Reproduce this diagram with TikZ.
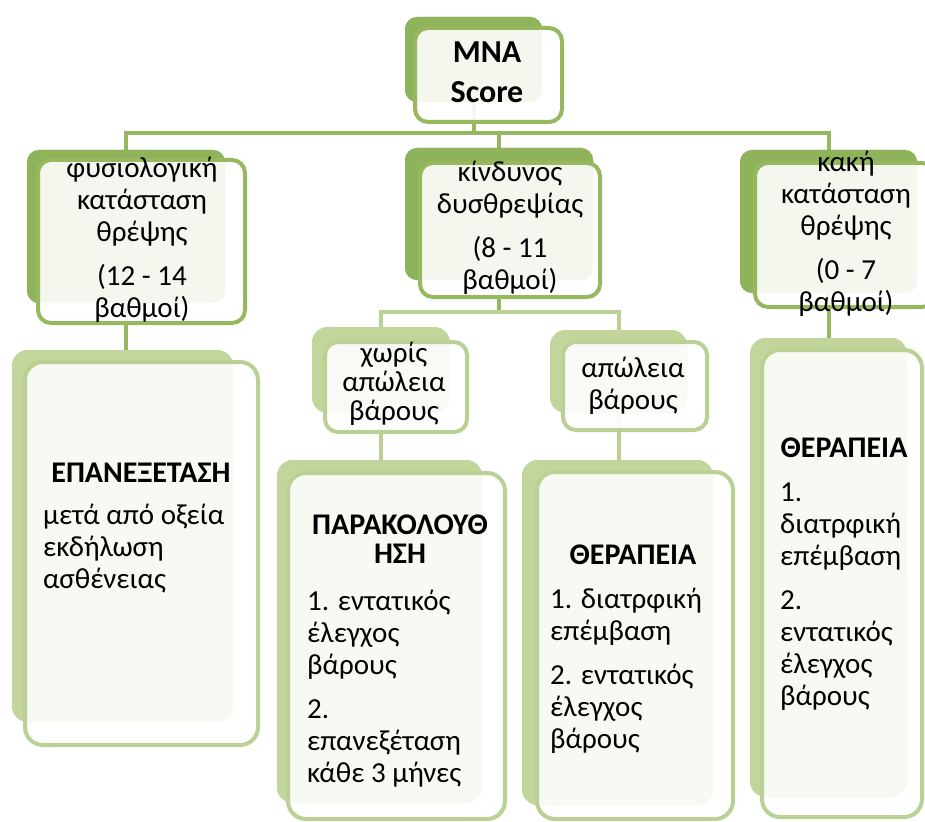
\documentclass[tikz,border=0pt]{standalone}
\usepackage{fontspec}
\setmainfont{Carlito}
\definecolor{gdark}{HTML}{8EB35A}
\definecolor{gline}{HTML}{97B85E}
\definecolor{glight}{HTML}{C2D69B}
\definecolor{glightline}{HTML}{BAD095}
\tikzset{
  backA/.style={fill=gdark, rounded corners=12pt, inner sep=0pt, outer sep=0pt},
  frontA/.style={draw=gline, line width=4pt, fill=white, fill opacity=0.9, rounded corners=13pt, inner sep=0pt, outer sep=0pt},
  backB/.style={fill=glight, rounded corners=16pt, inner sep=0pt, outer sep=0pt},
  frontB/.style={draw=glightline, line width=4pt, fill=white, fill opacity=0.88, rounded corners=18pt, inner sep=0pt, outer sep=0pt},
  connA/.style={draw=gline, line width=4pt},
  connB/.style={draw=glightline, line width=4pt},
  txt/.style={font=\fontsize{29}{32}\selectfont, align=center, inner sep=0pt, text=black},
  ltxt/.style={font=\fontsize{29}{32}\selectfont, align=left, inner sep=0pt, text=black, anchor=west},
  btxt/.style={font=\fontsize{30}{29}\selectfont\bfseries, align=center, inner sep=0pt, text=black},
}
\begin{document}
\begin{tikzpicture}[x=1pt,y=-1pt]
\clip (0,0) rectangle (925,821);
\fill[white] (0,0) rectangle (925,821);
% back shapes (named nodes)
\node[backA, minimum width=137pt, minimum height=85pt] (mna) at (473.5,59.5) {};
\node[backA, minimum width=198pt, minimum height=153pt] (la) at (126,226.5) {};
\node[backA, minimum width=188pt, minimum height=132pt] (lb) at (499,214) {};
\node[backA, minimum width=177pt, minimum height=143pt] (lc) at (828.5,221.5) {};
\node[backB, minimum width=221pt, minimum height=372pt] (ra) at (122.5,536) {};
\node[backB, minimum width=138pt, minimum height=86pt] (ma) at (381,370) {};
\node[backB, minimum width=137pt, minimum height=83pt] (mb) at (618.5,371.5) {};
\node[backB, minimum width=205pt, minimum height=343pt] (rb) at (379.5,631.5) {};
\node[backB, minimum width=191pt, minimum height=345pt] (rc) at (617.5,632.5) {};
\node[backB, minimum width=157pt, minimum height=459pt] (rd) at (828.5,567.5) {};
% connectors
\coordinate (bus) at (0,133);
\coordinate (bus2) at (0,312);
\draw[connA] (mna.south) -- (mna.south |- bus);
\draw[connA] (la.north) |- (lc.north |- bus) -- (lc.north);
\draw[connA] (lb.north) -- (lb.north |- bus);
\draw[connA] (la.south) -- (la.south |- ra.north);
\draw[connA] (lc.south) -- (lc.south |- rd.north);
\draw[connA] (lb.south) -- (lb.south |- bus2);
\draw[connB] (ma.north) |- (mb.north |- bus2) -- (mb.north);
\draw[connB] (ma.south) -- (ma.south |- rb.north);
\draw[connB] (mb.south) -- (mb.south |- rc.north);
% redraw back shapes over connector ends
\fill[gdark, rounded corners=12pt] (mna.north west) rectangle (mna.south east);
\fill[gdark, rounded corners=12pt] (la.north west) rectangle (la.south east);
\fill[gdark, rounded corners=12pt] (lb.north west) rectangle (lb.south east);
\fill[gdark, rounded corners=12pt] (lc.north west) rectangle (lc.south east);
\fill[glight, rounded corners=16pt] (ra.north west) rectangle (ra.south east);
\fill[glight, rounded corners=16pt] (ma.north west) rectangle (ma.south east);
\fill[glight, rounded corners=16pt] (mb.north west) rectangle (mb.south east);
\fill[glight, rounded corners=16pt] (rb.north west) rectangle (rb.south east);
\fill[glight, rounded corners=16pt] (rc.north west) rectangle (rc.south east);
\fill[glight, rounded corners=16pt] (rd.north west) rectangle (rd.south east);
% front shapes
\node[frontA, minimum width=147pt, minimum height=94pt] (mnaF) at (488.5,75) {};
\node[frontA, minimum width=207pt, minimum height=163pt] (laF) at (141.5,241.5) {};
\node[frontA, minimum width=180pt, minimum height=134pt] (lbF) at (510,230) {};
\node[frontA, minimum width=180pt, minimum height=144pt] (lcF) at (845,235) {};
\node[frontB, minimum width=233pt, minimum height=383pt] (raF) at (141.5,553.5) {};
\node[frontA, minimum width=142pt, minimum height=90pt, draw=glightline] (maF) at (396,387) {};
\node[frontA, minimum width=144pt, minimum height=88pt, draw=glightline] (mbF) at (635,386) {};
\node[frontB, minimum width=217pt, minimum height=346pt] (rbF) at (396.5,646) {};
\node[frontB, minimum width=196pt, minimum height=347pt] (rcF) at (635,645.5) {};
\node[frontB, minimum width=160pt, minimum height=467pt] (rdF) at (842,583.5) {};
% texts
\node[btxt, font=\fontsize{32}{40}\selectfont\bfseries] (t0) at (487,72) {MNA\\Score};
\node[txt] (t1) at (142,240) {φυσιολογική\\κατάσταση\\θρέψης\\[12pt](12 - 14\\βαθμοί)};
\node[txt] (t2) at (510,227.5) {κίνδυνος\\δυσθρεψίας\\[12pt](8 - 11\\βαθμοί)};
\node[txt] (t3) at (846,234) {κακή\\κατάσταση\\θρέψης\\[12pt](0 - 7\\βαθμοί)};
\node[txt, font=\fontsize{29}{29}\selectfont] (t4) at (394,384) {χωρίς\\απώλεια\\βάρους};
\node[txt] (t5) at (633,386) {απώλεια\\βάρους};
\node[btxt] (h1) at (141,473) {ΕΠΑΝΕΞΕΤΑΣΗ};
\node[ltxt] (b1) at (43,549) {μετά από οξεία\\εκδήλωση\\ασθένειας};
\node[btxt] (h2) at (400,539) {ΠΑΡΑΚΟΛΟΥΘ\\ΗΣΗ};
\node[ltxt] (b2) at (307,688.5) {1. εντατικός\\έλεγχος\\βάρους\\[12pt]2.\\επανεξέταση\\κάθε 3 μήνες};
\node[btxt] (h3) at (633,555) {ΘΕΡΑΠΕΙΑ};
\node[ltxt] (b3) at (550,671) {1. διατρφική\\επέμβαση\\[12pt]2. εντατικός\\έλεγχος\\βάρους};
\node[btxt] (h4) at (844,448) {ΘΕΡΑΠΕΙΑ};
\node[ltxt] (b4) at (780,596.5) {1.\\διατρφική\\επέμβαση\\[12pt]2.\\εντατικός\\έλεγχος\\βάρους};
\end{tikzpicture}
\end{document}
